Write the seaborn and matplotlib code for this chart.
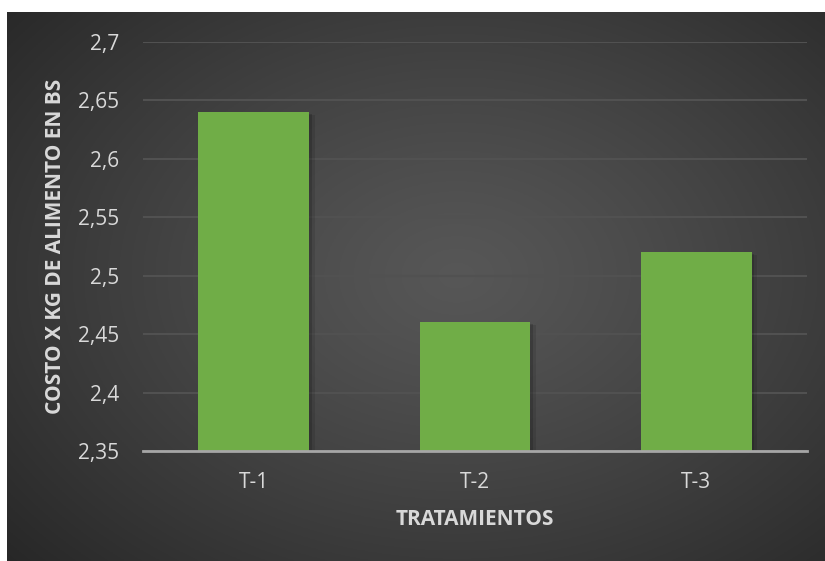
import numpy as np
import pandas as pd
import matplotlib
matplotlib.use("Agg")
import matplotlib.pyplot as plt
import matplotlib.patheffects as pe
import seaborn as sns

categories = ["T-1", "T-2", "T-3"]
values = [2.64, 2.46, 2.52]
yticks = [2.35, 2.4, 2.45, 2.5, 2.55, 2.6, 2.65, 2.7]
ytick_labels = ["2,35", "2,4", "2,45", "2,5", "2,55", "2,6", "2,65", "2,7"]
x_title = "TRATAMIENTOS"
y_title = "COSTO X KG DE ALIMENTO EN BS"

sns.set_theme(style="white")
plt.rcParams["font.family"] = ["Open Sans", "DejaVu Sans"]

W, H = 825, 561
fig = plt.figure(figsize=(W / 100, H / 100), dpi=100, facecolor="white")

# dark radial-gradient background panel
bg = fig.add_axes([7 / W, 0, 1 - 7 / W, 1 - 12 / H])
bg.set_axis_off()
gx, gy = np.meshgrid(np.linspace(0, 1, 400), np.linspace(0, 1, 300))
cx, cy = 0.55, 0.52
r = np.sqrt(((gx - cx) / 0.75) ** 2 + ((gy - cy) / 0.8) ** 2)
r = np.clip(r, 0, 1)
lum = 0.34 - (0.34 - 0.15) * r ** 1.2
img = np.dstack([lum, lum, lum])
bg.imshow(img, extent=[0, 1, 0, 1], aspect="auto", origin="lower")
bg.set_xlim(0, 1)
bg.set_ylim(0, 1)

left, right = 143 / W, 807 / W
bottom, top = 1 - 451 / H, 1 - 42 / H
ax = fig.add_axes([left, bottom, right - left, top - bottom])
ax.patch.set_alpha(0)

df = pd.DataFrame({"cat": categories, "val": values})
sns.barplot(data=df, x="cat", y="val", color="#70AD47", width=0.5,
            saturation=1, ax=ax, zorder=3)
for p in ax.patches:
    p.set_path_effects([
        pe.SimplePatchShadow(offset=(4, -2), shadow_rgbFace="black", alpha=0.10),
        pe.SimplePatchShadow(offset=(2, -1), shadow_rgbFace="black", alpha=0.15),
        pe.Normal()])
    p.set_edgecolor("none")

ax.set_ylim(2.35, 2.7)
ax.set_xlim(-0.5, 2.5)
ax.set_yticks(yticks)
ax.set_yticklabels(ytick_labels)
ax.yaxis.grid(True, color="#515151", linewidth=1.5, zorder=0)
ax.set_axisbelow(True)
for s in ["top", "right", "left"]:
    ax.spines[s].set_visible(False)
ax.spines["bottom"].set_color("#a6a6a6")
ax.spines["bottom"].set_linewidth(2)
ax.spines["bottom"].set_zorder(4)
ax.tick_params(axis="y", length=0, pad=17, labelsize=15, labelcolor="#d9d9d9")
ax.tick_params(axis="x", length=0, pad=15, labelsize=15, labelcolor="#d9d9d9")

ax.set_xlabel(x_title, fontsize=15, fontweight="bold", color="#d9d9d9")
ax.set_ylabel(y_title, fontsize=15, fontweight="bold", color="#d9d9d9")
ax.yaxis.set_label_coords((66 - 143) / (807 - 143), 0.5)
ax.xaxis.set_label_coords(0.5, -(509 - 451) / (451 - 42))

fig.savefig("out.png", dpi=100, facecolor="white")
